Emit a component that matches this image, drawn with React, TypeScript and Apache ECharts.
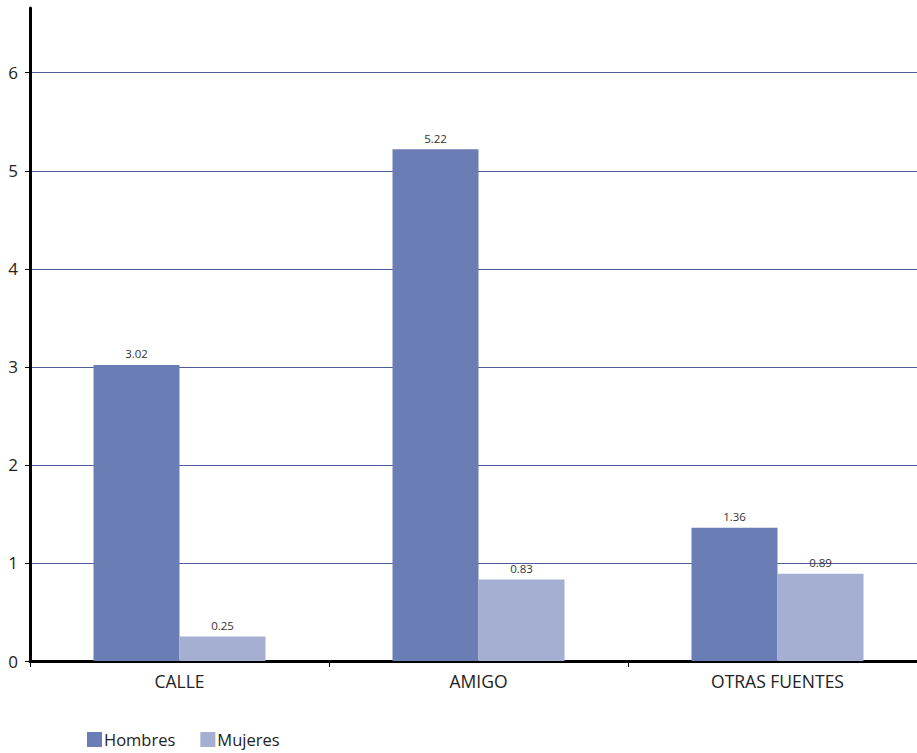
import React, { useEffect, useRef } from "react";
import * as echarts from "echarts";

const categories = ["CALLE", "AMIGO", "OTRAS FUENTES"];
const hombres = [3.02, 5.22, 1.36];
const mujeres = [0.25, 0.83, 0.89];
const seriesNames = ["Hombres", "Mujeres"];

const FONT = "'Open Sans', 'Noto Sans', sans-serif";

export default function App() {
  const ref = useRef<HTMLDivElement>(null);

  useEffect(() => {
    document.body.style.margin = "0";
    if (!ref.current) return;
    const chart = echarts.init(ref.current, undefined, { renderer: "svg" });

    const barLabel = {
      show: true,
      position: "top" as const,
      distance: 5,
      color: "#333333",
      fontSize: 11.5,
      fontFamily: FONT,
      formatter: (p: any) => Number(p.value).toFixed(2),
    };

    chart.setOption({
      animation: false,
      backgroundColor: "#ffffff",
      textStyle: { fontFamily: FONT },
      // the plot area runs slightly past the visible right edge
      grid: { left: 30, top: 8, width: 897, height: 653, containLabel: false },
      legend: {
        data: seriesNames,
        left: 87,
        top: 731,
        padding: 0,
        itemWidth: 15,
        itemHeight: 15,
        itemGap: 25,
        icon: "rect",
        textStyle: { fontSize: 16.5, color: "#222222", fontFamily: FONT, padding: [0, 0, 0, -3] },
      },
      xAxis: {
        type: "category",
        data: categories,
        axisLine: { show: true, lineStyle: { color: "#000000", width: 3 } },
        axisTick: { show: true, length: 6, lineStyle: { color: "#000000", width: 1 } },
        axisLabel: { color: "#222222", fontSize: 17.5, margin: 11, fontFamily: FONT },
        splitLine: { show: false },
      },
      yAxis: {
        type: "value",
        min: 0,
        max: 6.66,
        interval: 1,
        axisLine: { show: true, lineStyle: { color: "#000000", width: 3 } },
        axisTick: { show: true, length: 5, lineStyle: { color: "#000000", width: 1 } },
        axisLabel: {
          color: "#222222",
          fontSize: 17,
          margin: 12,
          fontFamily: FONT,
          showMaxLabel: false,
          formatter: (v: number) => (Number.isInteger(v) ? String(v) : ""),
        },
        splitLine: { show: true, showMaxLine: false, lineStyle: { color: "#4f5d9a", width: 1 } },
      },
      series: [
        {
          name: seriesNames[0],
          type: "bar",
          data: hombres,
          barWidth: 86,
          barGap: "0%",
          itemStyle: { color: "#6b7db5" },
          label: barLabel,
        },
        {
          name: seriesNames[1],
          type: "bar",
          data: mujeres,
          barWidth: 86,
          barGap: "0%",
          itemStyle: { color: "#a4afd1" },
          label: barLabel,
        },
      ],
    });

    return () => chart.dispose();
  }, []);

  return (
    <div style={{ width: 917, height: 753, overflow: "hidden", position: "relative" }}>
      <div ref={ref} style={{ width: 940, height: 753 }} />
    </div>
  );
}
